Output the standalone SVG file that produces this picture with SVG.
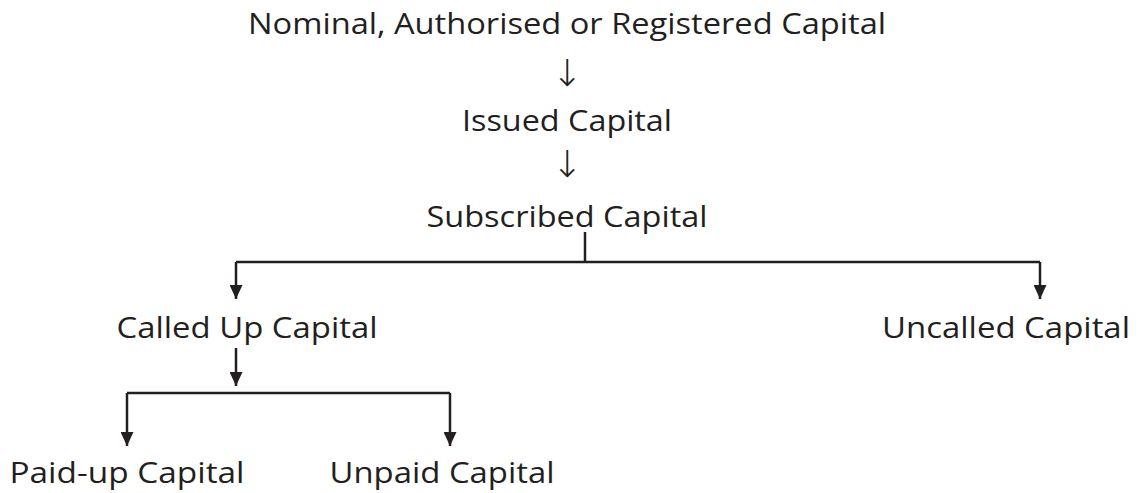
<svg xmlns="http://www.w3.org/2000/svg" width="1139" height="493" viewBox="0 0 1139 493">
<style>
text{font-family:"Open Sans","Noto Sans",sans-serif;font-size:30px;fill:#231f20;text-anchor:middle}
text.arr{font-family:"DejaVu Sans",sans-serif;font-size:37px;font-weight:200}
.ln{stroke:#231f20;stroke-width:2.5;fill:none}
</style>
<defs>
<marker id="ah" viewBox="0 0 14 13" refX="14" refY="6.5" markerWidth="14" markerHeight="13" markerUnits="userSpaceOnUse" orient="auto"><path d="M0,0 L14,6.5 L0,13 z" fill="#231f20"/></marker>
</defs>
<rect width="1139" height="493" fill="#fff"/>
<g id="n-nominal"><text x="567" y="34" textLength="638" lengthAdjust="spacingAndGlyphs">Nominal, Authorised or Registered Capital</text></g>
<g id="n-issued"><text x="567" y="131" textLength="210" lengthAdjust="spacingAndGlyphs">Issued Capital</text></g>
<g id="n-subscribed"><text x="567" y="227" textLength="281" lengthAdjust="spacingAndGlyphs">Subscribed Capital</text></g>
<g id="n-called"><text x="247" y="338" textLength="261" lengthAdjust="spacingAndGlyphs">Called Up Capital</text></g>
<g id="n-uncalled"><text x="1006" y="338" textLength="248" lengthAdjust="spacingAndGlyphs">Uncalled Capital</text></g>
<g id="n-paid"><text x="127" y="483" textLength="235" lengthAdjust="spacingAndGlyphs">Paid-up Capital</text></g>
<g id="n-unpaid"><text x="442" y="483" textLength="225" lengthAdjust="spacingAndGlyphs">Unpaid Capital</text></g>
<g id="connectors">
<text class="arr" x="567" y="86">↓</text>
<text class="arr" x="567" y="177">↓</text>
<path class="ln" d="M585,232 V262"/>
<path class="ln" d="M236,262 H1040"/>
<path class="ln" d="M236,262 V299" marker-end="url(#ah)"/>
<path class="ln" d="M1040,262 V299" marker-end="url(#ah)"/>
<path class="ln" d="M236,348 V386" marker-end="url(#ah)"/>
<path class="ln" d="M127,393 H450"/>
<path class="ln" d="M127,393 V446" marker-end="url(#ah)"/>
<path class="ln" d="M450,393 V446" marker-end="url(#ah)"/>
</g>
</svg>
